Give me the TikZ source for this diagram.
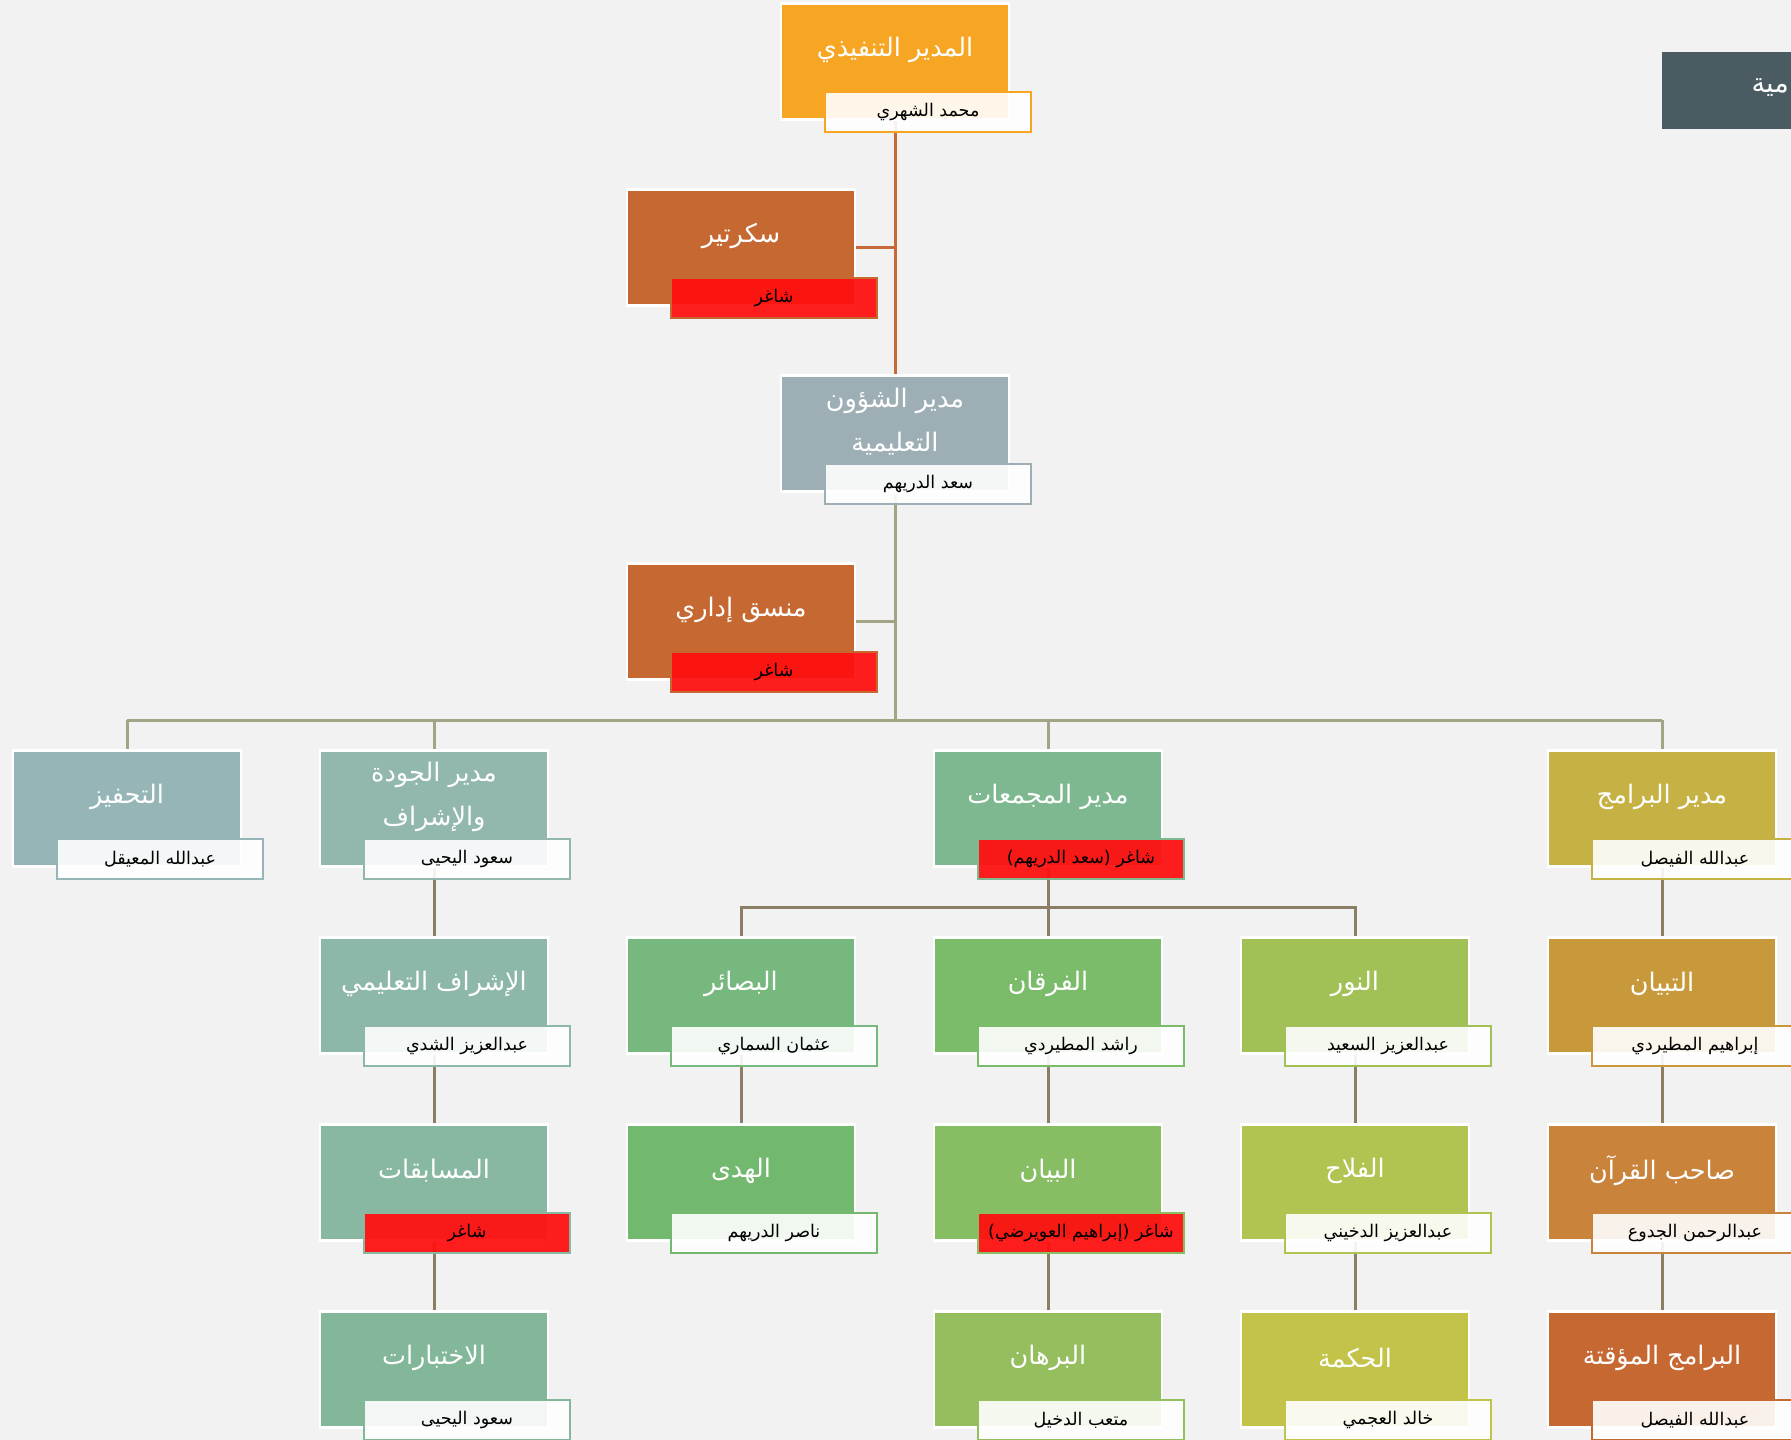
\documentclass[tikz,border=0pt]{standalone}
\usepackage{fontspec}
\newfontfamily\arabicfont[Script=Arabic]{DejaVu Sans}
\TeXXeTstate=1
\pgfdeclarelayer{back}
\pgfdeclarelayer{bg}
\pgfsetlayers{back,bg,main}
\definecolor{bgc}{HTML}{F2F2F2}
\definecolor{cExec}{HTML}{F6A623}
\definecolor{cRust}{HTML}{C66831}
\definecolor{cEdu}{HTML}{9DAFB5}
\definecolor{cTah}{HTML}{96B5B6}
\definecolor{cQual}{HTML}{91B7AF}
\definecolor{cIsh}{HTML}{8DB8A9}
\definecolor{cMus}{HTML}{88B8A2}
\definecolor{cIkh}{HTML}{82B799}
\definecolor{cMaj}{HTML}{7DB890}
\definecolor{cBas}{HTML}{77B87E}
\definecolor{cHud}{HTML}{73B86F}
\definecolor{cFur}{HTML}{7BBC6B}
\definecolor{cBay}{HTML}{87BD63}
\definecolor{cBur}{HTML}{95BE5F}
\definecolor{cNur}{HTML}{A1C156}
\definecolor{cFal}{HTML}{B1C351}
\definecolor{cHik}{HTML}{C3C34A}
\definecolor{cBar}{HTML}{C6B244}
\definecolor{cTib}{HTML}{C8993B}
\definecolor{cSah}{HTML}{C9833A}
\definecolor{cDark}{HTML}{4A5C62}
\definecolor{vacred}{HTML}{FF1010}
\definecolor{lOrange}{HTML}{C8693A}
\definecolor{lOlive}{HTML}{A3A386}
\definecolor{lBrown}{HTML}{8C7E64}
\newcommand\arR[1]{\beginR #1\endR}
\tikzset{
  mainbox/.style={draw=white, line width=2.5pt, minimum width=228pt, minimum height=116pt, inner sep=0pt, anchor=north},
  titlestyle/.style={text=white, font=\arabicfont\fontsize{25.5}{44}\selectfont, align=center, inner sep=0pt},
  namebox/.style={line width=2.5pt, minimum width=206pt, minimum height=40pt, inner sep=0pt, fill=white, fill opacity=0.9, text opacity=1, text=black, font=\arabicfont\fontsize{17.5}{20}\selectfont},
  vacant/.style={fill=vacred, fill opacity=0.94},
  conn/.style={line width=3pt},
}
\newcommand\orgunit[7][]{%
  \node[mainbox, fill=#5] (#2) at (#3,#4) {};
  \node[titlestyle] (#2t) at (#3,#4+48) {#6};
  \node[namebox, draw=#5, #1] (#2n) at (#3+33,#4+110) {#7};
}
\begin{document}
\begin{tikzpicture}[x=1pt,y=-1pt]
\useasboundingbox (0,0) rectangle (1791,1440);
\begin{pgfonlayer}{back}
\fill[bgc] (0,0) rectangle (1791,1440);
\end{pgfonlayer}
\clip (0,0) rectangle (1791,1440);

% side box (cut off at the right edge)
\node[fill=cDark, minimum width=140pt, minimum height=77pt, inner sep=0pt, anchor=north west] (side) at (1662,52) {};
\node[text=white, anchor=east, inner sep=0pt, font=\arabicfont\fontsize{27}{30}\selectfont] (sidet) at (1789,88) {\arR{مية}};

% row 0-3
\orgunit{exec}{895}{2}{cExec}{\arR{المدير التنفيذي}}{\arR{محمد الشهري}}
\orgunit[vacant]{sec}{741}{188}{cRust}{\arR{سكرتير}}{\arR{شاغر}}
\orgunit{edu}{895}{374}{cEdu}{\arR{مدير الشؤون}\\\arR{التعليمية}}{\arR{سعد الدريهم}}
\orgunit[vacant]{coord}{741}{562}{cRust}{\arR{منسق إداري}}{\arR{شاغر}}

% row 4
\orgunit{tah}{127}{749}{cTah}{\arR{التحفيز}}{\arR{عبدالله المعيقل}}
\orgunit{qual}{434}{749}{cQual}{\arR{مدير الجودة}\\\arR{والإشراف}}{\arR{سعود اليحيى}}
\orgunit[vacant]{maj}{1048}{749}{cMaj}{\arR{مدير المجمعات}}{\arR{شاغر (سعد الدريهم)}}
\orgunit{bar}{1662}{749}{cBar}{\arR{مدير البرامج}}{\arR{عبدالله الفيصل}}

% row 5
\orgunit{ish}{434}{936}{cIsh}{\arR{الإشراف التعليمي}}{\arR{عبدالعزيز الشدي}}
\orgunit{bas}{741}{936}{cBas}{\arR{البصائر}}{\arR{عثمان السماري}}
\orgunit{fur}{1048}{936}{cFur}{\arR{الفرقان}}{\arR{راشد المطيردي}}
\orgunit{nur}{1355}{936}{cNur}{\arR{النور}}{\arR{عبدالعزيز السعيد}}
\orgunit{tib}{1662}{936}{cTib}{\arR{التبيان}}{\arR{إبراهيم المطيردي}}

% row 6
\orgunit[vacant]{mus}{434}{1123}{cMus}{\arR{المسابقات}}{\arR{شاغر}}
\orgunit{hud}{741}{1123}{cHud}{\arR{الهدى}}{\arR{ناصر الدريهم}}
\orgunit[vacant]{bay}{1048}{1123}{cBay}{\arR{البيان}}{\arR{شاغر (إبراهيم العويرضي)}}
\orgunit{fal}{1355}{1123}{cFal}{\arR{الفلاح}}{\arR{عبدالعزيز الدخيني}}
\orgunit{sah}{1662}{1123}{cSah}{\arR{صاحب القرآن}}{\arR{عبدالرحمن الجدوع}}

% row 7
\orgunit{ikh}{434}{1310}{cIkh}{\arR{الاختبارات}}{\arR{سعود اليحيى}}
\orgunit{bur}{1048}{1310}{cBur}{\arR{البرهان}}{\arR{متعب الدخيل}}
\orgunit{hik}{1355}{1310}{cHik}{\arR{الحكمة}}{\arR{خالد العجمي}}
\orgunit{tem}{1662}{1310}{cRust}{\arR{البرامج المؤقتة}}{\arR{عبدالله الفيصل}}

\coordinate (bus) at (895,720);
\coordinate (sbus) at (1048,907);

\begin{pgfonlayer}{bg}
  \draw[conn, lOrange] (exec.south) -- (edu.north);
  \draw[conn, lOrange] (sec.east) -- (sec.east -| exec.south);
  \draw[conn, lOlive] (edu.south) -- (bus);
  \draw[conn, lOlive] (coord.east) -- (coord.east -| edu.south);
  \draw[conn, lOlive] (tah.north |- bus) -- (bar.north |- bus);
  \draw[conn, lOlive] (tah.north |- bus) -- (tah.north);
  \draw[conn, lOlive] (qual.north |- bus) -- (qual.north);
  \draw[conn, lOlive] (maj.north |- bus) -- (maj.north);
  \draw[conn, lOlive] (bar.north |- bus) -- (bar.north);
  \draw[conn, lBrown] (maj.south) -- (sbus);
  \draw[conn, lBrown] (bas.north) -- (bas.north |- sbus) -- (nur.north |- sbus) -- (nur.north);
  \draw[conn, lBrown] (sbus) -- (fur.north);
  \draw[conn, lBrown] (qual.south) -- (ish.north);
  \draw[conn, lBrown] (ish.south) -- (mus.north);
  \draw[conn, lBrown] (mus.south) -- (ikh.north);
  \draw[conn, lBrown] (bas.south) -- (hud.north);
  \draw[conn, lBrown] (fur.south) -- (bay.north);
  \draw[conn, lBrown] (bay.south) -- (bur.north);
  \draw[conn, lBrown] (nur.south) -- (fal.north);
  \draw[conn, lBrown] (fal.south) -- (hik.north);
  \draw[conn, lBrown] (bar.south) -- (tib.north);
  \draw[conn, lBrown] (tib.south) -- (sah.north);
  \draw[conn, lBrown] (sah.south) -- (tem.north);
\end{pgfonlayer}
\end{tikzpicture}
\end{document}
